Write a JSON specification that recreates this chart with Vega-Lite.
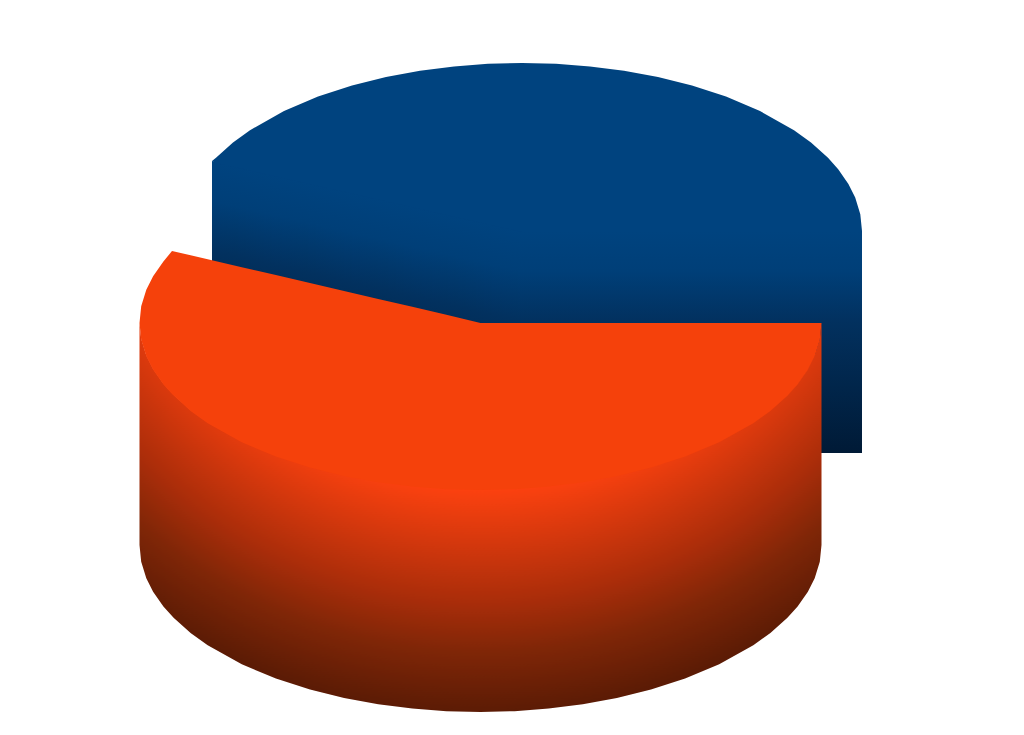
{
  "$schema": "https://vega.github.io/schema/vega-lite/v6.json",
  "width": 1024,
  "height": 735,
  "padding": 0,
  "autosize": {"type": "fit", "contains": "padding"},
  "background": "white",
  "view": {"stroke": null},
  "datasets": {
    "blueSideLeft": [
      {"x": 212, "top": 161, "bottom": 383},
      {"x": 522.5, "top": 231, "bottom": 453}
    ],
    "blueSideRight": [
      {"x": 522, "top": 231, "bottom": 453},
      {"x": 862, "top": 231, "bottom": 453}
    ],
    "blueTop": [
      {"x": 212, "top": 161, "bottom": 161},
      {"x": 216, "top": 157.8, "bottom": 162.9},
      {"x": 233, "top": 142.5, "bottom": 166.8},
      {"x": 250, "top": 130.2, "bottom": 170.6},
      {"x": 284, "top": 111, "bottom": 178.3},
      {"x": 318, "top": 96.6, "bottom": 186},
      {"x": 352, "top": 85.5, "bottom": 193.6},
      {"x": 386, "top": 77, "bottom": 201.3},
      {"x": 420, "top": 70.7, "bottom": 209},
      {"x": 454, "top": 66.4, "bottom": 216.7},
      {"x": 488, "top": 63.8, "bottom": 224.3},
      {"x": 522, "top": 63, "bottom": 232},
      {"x": 556, "top": 63.8, "bottom": 232},
      {"x": 590, "top": 66.4, "bottom": 232},
      {"x": 624, "top": 70.7, "bottom": 232},
      {"x": 658, "top": 77, "bottom": 232},
      {"x": 692, "top": 85.5, "bottom": 232},
      {"x": 726, "top": 96.6, "bottom": 232},
      {"x": 760, "top": 111, "bottom": 232},
      {"x": 794, "top": 130.2, "bottom": 232},
      {"x": 811, "top": 142.5, "bottom": 232},
      {"x": 828, "top": 157.8, "bottom": 232},
      {"x": 838.2, "top": 169.2, "bottom": 232},
      {"x": 848.4, "top": 184, "bottom": 232},
      {"x": 855.2, "top": 197.6, "bottom": 232},
      {"x": 860.3, "top": 214.2, "bottom": 232},
      {"x": 862, "top": 231, "bottom": 232}
    ],
    "orangeSide": [
      {"x": 139.5, "top": 323, "bottom": 545},
      {"x": 141.2, "top": 338.7, "bottom": 561.7},
      {"x": 146.3, "top": 355.2, "bottom": 578.2},
      {"x": 153.1, "top": 368.8, "bottom": 591.8},
      {"x": 163.4, "top": 383.4, "bottom": 606.4},
      {"x": 173.6, "top": 394.8, "bottom": 617.8},
      {"x": 190.6, "top": 410, "bottom": 633},
      {"x": 207.7, "top": 422.2, "bottom": 645.2},
      {"x": 241.8, "top": 441.3, "bottom": 664.3},
      {"x": 275.9, "top": 455.6, "bottom": 678.6},
      {"x": 310, "top": 466.6, "bottom": 689.6},
      {"x": 344.1, "top": 475.1, "bottom": 698.1},
      {"x": 378.2, "top": 481.3, "bottom": 704.3},
      {"x": 412.3, "top": 485.6, "bottom": 708.6},
      {"x": 446.4, "top": 488.2, "bottom": 711.2},
      {"x": 480.5, "top": 489, "bottom": 712},
      {"x": 514.6, "top": 488.2, "bottom": 711.2},
      {"x": 548.7, "top": 485.6, "bottom": 708.6},
      {"x": 582.8, "top": 481.3, "bottom": 704.3},
      {"x": 616.9, "top": 475.1, "bottom": 698.1},
      {"x": 651, "top": 466.6, "bottom": 689.6},
      {"x": 685.1, "top": 455.6, "bottom": 678.6},
      {"x": 719.2, "top": 441.3, "bottom": 664.3},
      {"x": 753.3, "top": 422.2, "bottom": 645.2},
      {"x": 770.4, "top": 410, "bottom": 633},
      {"x": 787.4, "top": 394.8, "bottom": 617.8},
      {"x": 797.6, "top": 383.4, "bottom": 606.4},
      {"x": 807.9, "top": 368.8, "bottom": 591.8},
      {"x": 814.7, "top": 355.2, "bottom": 578.2},
      {"x": 819.8, "top": 338.7, "bottom": 561.7},
      {"x": 821.5, "top": 323, "bottom": 545}
    ],
    "orangeTop": [
      {"x": 139.5, "top": 323, "bottom": 323},
      {"x": 141.2, "top": 306.3, "bottom": 339.7},
      {"x": 146.3, "top": 289.8, "bottom": 356.2},
      {"x": 153.1, "top": 276.2, "bottom": 369.8},
      {"x": 163.4, "top": 261.6, "bottom": 384.4},
      {"x": 172, "top": 251, "bottom": 394},
      {"x": 190.6, "top": 255.3, "bottom": 411},
      {"x": 207.7, "top": 259.3, "bottom": 423.2},
      {"x": 241.8, "top": 267.2, "bottom": 442.3},
      {"x": 275.9, "top": 275.1, "bottom": 456.6},
      {"x": 310, "top": 283, "bottom": 467.6},
      {"x": 344.1, "top": 291, "bottom": 476.1},
      {"x": 378.2, "top": 298.9, "bottom": 482.3},
      {"x": 412.3, "top": 306.8, "bottom": 486.6},
      {"x": 446.4, "top": 314.7, "bottom": 489.2},
      {"x": 480.5, "top": 323, "bottom": 490},
      {"x": 514.6, "top": 323, "bottom": 489.2},
      {"x": 548.7, "top": 323, "bottom": 486.6},
      {"x": 582.8, "top": 323, "bottom": 482.3},
      {"x": 616.9, "top": 323, "bottom": 476.1},
      {"x": 651, "top": 323, "bottom": 467.6},
      {"x": 685.1, "top": 323, "bottom": 456.6},
      {"x": 719.2, "top": 323, "bottom": 442.3},
      {"x": 753.3, "top": 323, "bottom": 423.2},
      {"x": 770.4, "top": 323, "bottom": 411},
      {"x": 787.4, "top": 323, "bottom": 395.8},
      {"x": 797.6, "top": 323, "bottom": 384.4},
      {"x": 807.9, "top": 323, "bottom": 369.8},
      {"x": 814.7, "top": 323, "bottom": 356.2},
      {"x": 819.8, "top": 323, "bottom": 339.7},
      {"x": 821.5, "top": 323, "bottom": 323}
    ]
  },
  "encoding": {
    "x": {"field": "x", "type": "quantitative", "axis": null, "scale": {"domain": [0, 1024], "nice": false, "zero": false}},
    "y": {"field": "top", "type": "quantitative", "axis": null, "scale": {"domain": [735, 0], "nice": false, "zero": false}},
    "y2": {"field": "bottom"}
  },
  "layer": [
    {
      "data": {"name": "blueSideLeft"},
      "mark": {
        "type": "area",
        "color": {
          "gradient": "linear", "x1": 0.242, "y1": 0, "x2": 0, "y2": 1,
          "stops": [
            {"offset": 0.055, "color": "#00437f"},
            {"offset": 0.184, "color": "#003f78"},
            {"offset": 0.345, "color": "#02315f"},
            {"offset": 0.771, "color": "#001a36"}
          ]
        }
      }
    },
    {
      "data": {"name": "blueSideRight"},
      "mark": {
        "type": "area",
        "color": {
          "gradient": "linear", "x1": 0, "y1": 0, "x2": 0, "y2": 1,
          "stops": [
            {"offset": 0, "color": "#00437f"},
            {"offset": 0.18, "color": "#003f78"},
            {"offset": 0.405, "color": "#02315f"},
            {"offset": 1, "color": "#001a36"}
          ]
        }
      }
    },
    {
      "data": {"name": "blueTop"},
      "mark": {"type": "area", "color": "#00437f"}
    },
    {
      "data": {"name": "orangeSide"},
      "mark": {
        "type": "area",
        "color": {
          "gradient": "radial", "x1": 0.5, "y1": -0.068, "r1": 0.528, "x2": 0.5, "y2": -0.068, "r2": 0.853,
          "stops": [
            {"offset": 0, "color": "#fb410f"},
            {"offset": 0.5, "color": "#aa2d0a"},
            {"offset": 0.73, "color": "#7f2607"},
            {"offset": 0.95, "color": "#621d05"},
            {"offset": 1, "color": "#5c1b05"}
          ]
        }
      }
    },
    {
      "data": {"name": "orangeTop"},
      "mark": {"type": "area", "color": "#f5410b"}
    }
  ]
}
